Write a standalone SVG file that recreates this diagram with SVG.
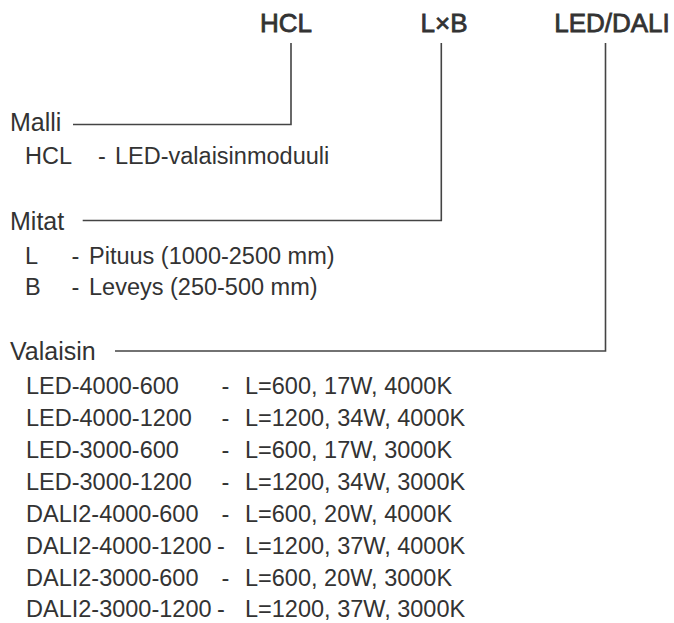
<svg xmlns="http://www.w3.org/2000/svg" width="674" height="623" viewBox="0 0 674 623">
<style>
text{font-family:"Liberation Sans",Arial,sans-serif;fill:#333}
.code{font-size:26px;text-anchor:middle;stroke:#333;stroke-width:0.8}
.lbl{font-size:25px}
.item{font-size:23.5px}
.conn{fill:none;stroke:#444;stroke-width:1.6}
</style>
<rect width="674" height="623" fill="#fff"/>
<g id="code-hcl"><text class="code" x="286" y="32">HCL</text></g>
<g id="code-lxb"><text class="code" x="444" y="32">L×B</text></g>
<g id="code-led-dali"><text class="code" x="612" y="32">LED/DALI</text></g>
<g id="connectors">
<polyline class="conn" points="291,43 291,124.5 73,124.5"/>
<polyline class="conn" points="441.3,43 441.3,220.5 82.7,220.5"/>
<polyline class="conn" points="605.5,43 605.5,351 115,351"/>
</g>
<g id="malli">
<text class="lbl" x="10" y="131">Malli</text>
<text class="item" y="163.5"><tspan x="25">HCL</tspan><tspan x="98">-</tspan><tspan x="115">LED-valaisinmoduuli</tspan></text>
</g>
<g id="mitat">
<text class="lbl" x="10" y="230">Mitat</text>
<text class="item" y="263.5"><tspan x="25">L</tspan><tspan x="71.5">-</tspan><tspan x="89">Pituus (1000-2500 mm)</tspan></text>
<text class="item" y="294.5"><tspan x="25">B</tspan><tspan x="71.5">-</tspan><tspan x="89">Leveys (250-500 mm)</tspan></text>
</g>
<g id="valaisin">
<text class="lbl" x="10" y="360">Valaisin</text>
<text class="item" y="393.5"><tspan x="26">LED-4000-600</tspan><tspan x="221.5">-</tspan><tspan x="245">L=600, 17W, 4000K</tspan></text>
<text class="item" y="425.5"><tspan x="26">LED-4000-1200</tspan><tspan x="221.5">-</tspan><tspan x="245">L=1200, 34W, 4000K</tspan></text>
<text class="item" y="457.5"><tspan x="26">LED-3000-600</tspan><tspan x="221.5">-</tspan><tspan x="245">L=600, 17W, 3000K</tspan></text>
<text class="item" y="489.5"><tspan x="26">LED-3000-1200</tspan><tspan x="221.5">-</tspan><tspan x="245">L=1200, 34W, 3000K</tspan></text>
<text class="item" y="521.5"><tspan x="26">DALI2-4000-600</tspan><tspan x="221.5">-</tspan><tspan x="245">L=600, 20W, 4000K</tspan></text>
<text class="item" y="553.5"><tspan x="26">DALI2-4000-1200</tspan><tspan x="217">-</tspan><tspan x="245">L=1200, 37W, 4000K</tspan></text>
<text class="item" y="585.5"><tspan x="26">DALI2-3000-600</tspan><tspan x="221.5">-</tspan><tspan x="245">L=600, 20W, 3000K</tspan></text>
<text class="item" y="617"><tspan x="26">DALI2-3000-1200</tspan><tspan x="217">-</tspan><tspan x="245">L=1200, 37W, 3000K</tspan></text>
</g>
</svg>
